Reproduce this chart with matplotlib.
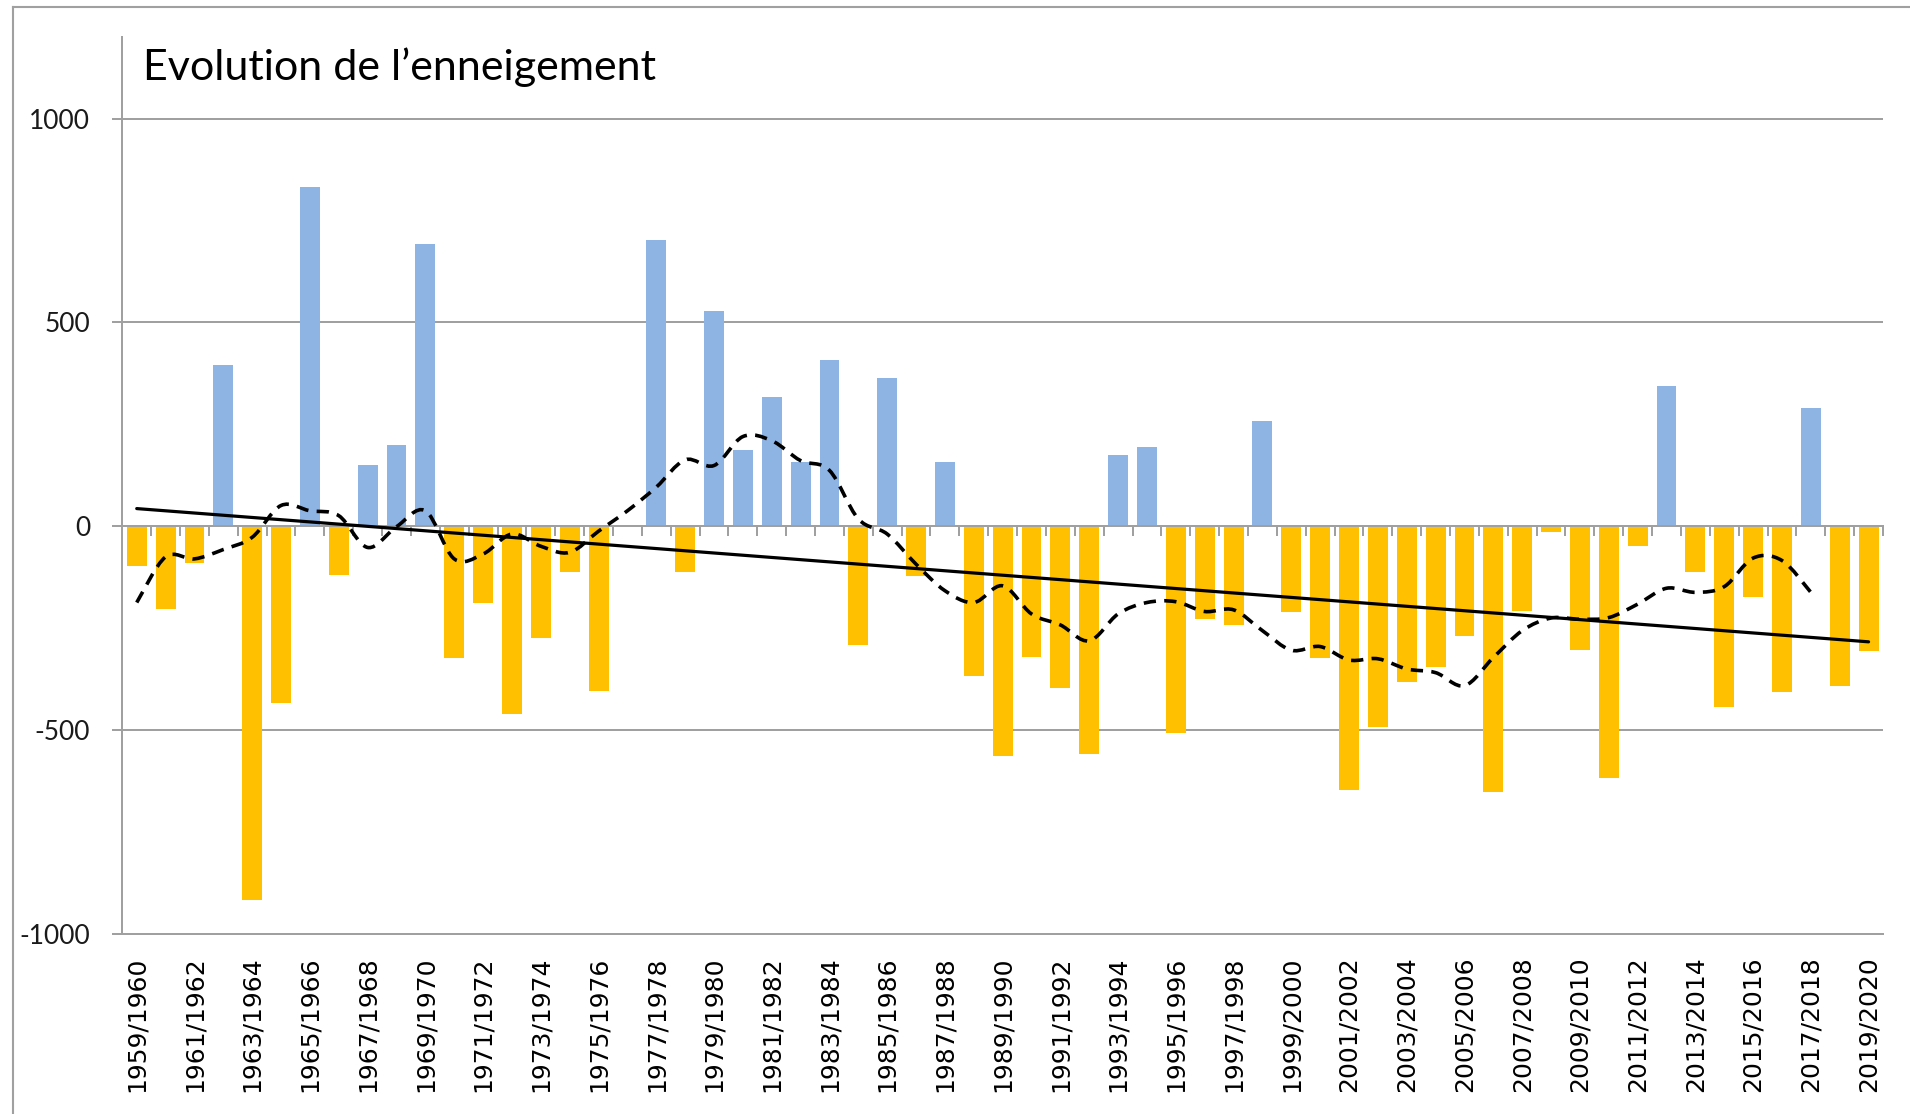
import numpy as np
import matplotlib
matplotlib.use("Agg")
import matplotlib.pyplot as plt
from matplotlib.path import Path
from matplotlib.patches import PathPatch
from matplotlib.lines import Line2D

# ---------------- data ----------------
seasons = [f"{y}/{y + 1}" for y in range(1959, 2020)]

snow_anomaly = [
    -97, -204, -91, 396, -916, -433, 833, -119, 151, 199,
    692, -323, -189, -460, -273, -113, -403, 0, 703, -111,
    529, 188, 317, 157, 407, -291, 364, -123, 157, -367,
    -564, -321, -397, -559, 175, 195, -507, -228, -243, 257,
    -211, -324, -647, -493, -383, -344, -268, -651, -207, -13,
    -304, -617, -48, 345, -113, -444, -173, -407, 289, -391,
    -305,
]

moving_avg = [
    -187, -75, -80, -57, -27, 51, 38, 26, -52, -1,
    38, -80, -68, -19, -49, -64, -12, 38, 96, 163,
    149, 220, 210, 161, 137, 18, -19, -93, -158, -187,
    -146, -215, -242, -281, -215, -187, -185, -209, -205, -256,
    -304, -295, -328, -325, -350, -359, -391, -322, -256, -225,
    -228, -224, -191, -152, -162, -148, -78, -84, -162,
]

ytick_values = [-1000, -500, 0, 500, 1000]
ytick_labels = ["-1000", "-500", "0", "500", "1000"]
title = "Evolution de l\u2019enneigement"

# ---------------- style ----------------
BLUE = "#8EB4E3"
ORANGE = "#FFC000"
GRAY = "#A0A0A0"
W, H = 1910, 1114

fig = plt.figure(figsize=(W / 100, H / 100), dpi=100)
fig.patch.set_facecolor("white")

ax = fig.add_axes([122.3 / W, 1 - 934 / H, (1883 - 122.3) / W, (934 - 37) / H])

x = np.arange(len(snow_anomaly))
vals = np.array(snow_anomaly, dtype=float)
colors = [BLUE if v >= 0 else ORANGE for v in vals]
ax.bar(x, vals, width=0.69, color=colors, zorder=1)

# linear trend
coef = np.polyfit(x, vals, 1)
ax.plot([x[0], x[-1]], np.polyval(coef, [x[0], x[-1]]), color="black",
        lw=2.3, zorder=4, solid_capstyle="round")

# smoothed dashed moving average (Bezier through the read values)
pts = np.column_stack([np.arange(len(moving_avg)), np.array(moving_avg, float)])
n = len(pts)
verts = [tuple(pts[0])]
codes = [Path.MOVETO]
for k in range(n - 1):
    p0 = pts[max(k - 1, 0)]
    p1 = pts[k]
    p2 = pts[k + 1]
    p3 = pts[min(k + 2, n - 1)]
    c1 = p1 + (p2 - p0) / 6.0
    c2 = p2 - (p3 - p1) / 6.0
    verts += [tuple(c1), tuple(c2), tuple(p2)]
    codes += [Path.CURVE4] * 3
patch = PathPatch(Path(verts, codes), fill=False, edgecolor="black", lw=2.6,
                  linestyle=(0, (3.4, 2.3)), zorder=5, capstyle="butt")
ax.add_patch(patch)

# axes limits
ax.set_xlim(-0.5, len(snow_anomaly) - 0.5)
ax.set_ylim(-1000, 1200)

# y axis
ax.set_yticks(ytick_values)
ax.set_yticklabels(ytick_labels)
ax.tick_params(axis="y", length=7.2, width=1.44, color=GRAY, pad=16,
               labelsize=19, labelcolor="#1a1a1a")
for lab in ax.get_yticklabels():
    lab.set_fontfamily("Lato")
ax.yaxis.grid(True, color=GRAY, lw=1.44)
ax.set_axisbelow(True)

# spines
for s in ["top", "right"]:
    ax.spines[s].set_visible(False)
ax.spines["left"].set_color(GRAY)
ax.spines["left"].set_linewidth(1.44)
ax.spines["bottom"].set_position(("data", 0))
ax.spines["bottom"].set_color(GRAY)
ax.spines["bottom"].set_linewidth(1.44)

# category boundary ticks on the zero line
ax.set_xticks([])
ax.set_xticks(np.arange(-0.5, len(snow_anomaly), 1.0), minor=True)
ax.tick_params(axis="x", which="minor", length=7.2, width=1.44, color=GRAY,
               direction="out", labelbottom=False)

# labels along the bottom
sec = ax.secondary_xaxis(0.0)
sec.set_xticks(x[::2])
sec.set_xticklabels(seasons[::2], rotation=90, fontsize=18,
                    fontfamily="DejaVu Sans", color="black")
sec.tick_params(axis="x", length=0, pad=16)
sec.spines["bottom"].set_color(GRAY)
sec.spines["bottom"].set_linewidth(1.44)

# title
fig.text(143 / W, 1 - 80 / H, title, fontsize=31, fontfamily="Lato",
         ha="left", va="baseline", color="black")

# chart-area border (top and left visible)
fig.add_artist(Line2D([13 / W, 1.0], [1 - 7 / H, 1 - 7 / H],
                      transform=fig.transFigure, color=GRAY, lw=1.5))
fig.add_artist(Line2D([13 / W, 13 / W], [1 - 7 / H, 0.0],
                      transform=fig.transFigure, color=GRAY, lw=1.5))

fig.savefig("out.png", dpi=100, facecolor="white")
